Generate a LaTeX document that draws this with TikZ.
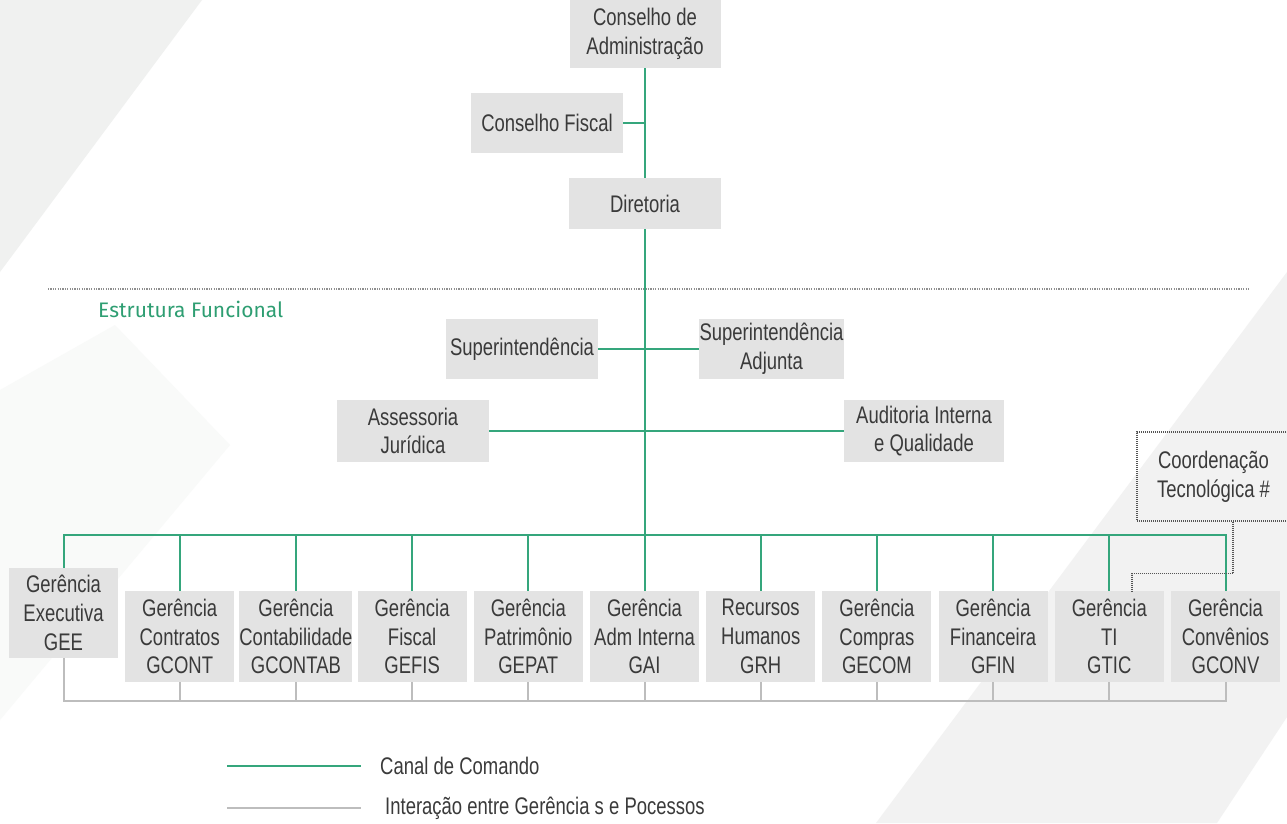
\documentclass[tikz,border=0pt]{standalone}
\usepackage{fontspec}
\setmainfont{Liberation Sans}[FakeStretch=0.77]
\newfontfamily\estfont{Fira Sans}
\definecolor{cmdgreen}{HTML}{35A67C}
\definecolor{estgreen}{HTML}{2E9E72}
\definecolor{boxgray}{HTML}{E3E3E3}
\definecolor{txtgray}{HTML}{3A3A3A}
\definecolor{intgray}{HTML}{BDBDBD}
\definecolor{sepgray}{HTML}{8E8E8E}
\definecolor{dotgray}{HTML}{555555}
\definecolor{bgA}{HTML}{F0F1F0}
\definecolor{bgB}{HTML}{F9FAF9}
\definecolor{bgC}{HTML}{F2F2F2}
\begin{document}
\begin{tikzpicture}[x=1pt,y=-1pt,
  orgbox/.style={fill=boxgray, draw=none, inner sep=0pt, align=center, text=txtgray,
    font=\fontsize{24}{28.7}\selectfont},
  mgr/.style={orgbox, minimum width=109pt, minimum height=91pt},
  cmd/.style={draw=cmdgreen, line width=2pt},
  inter/.style={draw=intgray, line width=2pt},
  sepline/.style={draw=sepgray, line width=1.4pt, dash pattern=on 1.2pt off 1.2pt},
  dotlink/.style={draw=dotgray, line width=1.1pt, dash pattern=on 1pt off 1pt},
  legtext/.style={anchor=west, inner sep=0pt, text=txtgray, font=\fontsize{24}{28.7}\selectfont}]
\useasboundingbox (0,0) rectangle (1287,823);
\fill[white] (0,0) rectangle (1287,823);
% faint background shapes
\fill[bgA] (0,0) -- (202,0) -- (0,272) -- cycle;
\fill[bgB] (0,390) -- (115,325) -- (230,445) -- (0,720) -- cycle;
\fill[bgC] (876,823) -- (1217,823) -- (1287,717) -- (1287,272) -- cycle;

% separator
\draw[sepline] (48,289) -- (1250,289);
\node[anchor=west, inner sep=0pt, text=estgreen, font=\estfont\fontsize{21}{25}\selectfont] (est) at (98,309) {Estrutura Funcional};

% top nodes
\node[orgbox, minimum width=151pt, minimum height=68pt] (ca) at (645,34) {Conselho de\\Administração};
\node[orgbox, minimum width=152pt, minimum height=60pt] (cf) at (547,123) {Conselho Fiscal};
\node[orgbox, minimum width=152pt, minimum height=51pt] (dir) at (645,203.5) {Diretoria};
\node[orgbox, minimum width=152pt, minimum height=60pt] (sup) at (522,349) {Superintendência};
\node[orgbox, minimum width=145pt, minimum height=60pt] (supa) at (771.5,349) {Superintendência\\Adjunta};
\node[orgbox, minimum width=152pt, minimum height=62pt] (aj) at (413,431) {Assessoria\\Jurídica};
\node[orgbox, minimum width=160pt, minimum height=62pt] (aiq) at (924,431) {Auditoria Interna\\e Qualidade};

% managers
\node[mgr, minimum height=90pt] (gee) at (63.5,613) {Gerência\\Executiva\\GEE};
\node[mgr] (gcont) at (179.7,636.5) {Gerência\\Contratos\\GCONT};
\node[mgr] (gcontab) at (295.9,636.5) {Gerência\\Contabilidade\\GCONTAB};
\node[mgr] (gefis) at (412.1,636.5) {Gerência\\Fiscal\\GEFIS};
\node[mgr] (gepat) at (528.3,636.5) {Gerência\\Patrimônio\\GEPAT};
\node[mgr] (gai) at (644.5,636.5) {Gerência\\Adm Interna\\GAI};
\node[mgr] (grh) at (760.7,636.5) {Recursos\\Humanos\\GRH};
\node[mgr] (gecom) at (876.9,636.5) {Gerência\\Compras\\GECOM};
\node[mgr] (gfin) at (993.1,636.5) {Gerência\\Financeira\\GFIN};
\node[mgr] (gtic) at (1109.3,636.5) {Gerência\\TI\\GTIC};
\node[mgr] (gconv) at (1225.5,636.5) {Gerência\\Convênios\\GCONV};

% coordenação
\node[orgbox, fill=none, draw=dotgray, line width=1.1pt, dash pattern=on 1pt off 1pt,
  minimum width=153pt, minimum height=89pt] (coord) at (1213.5,476.5) {Coordenação\\Tecnológica \#};

% command lines
\coordinate (busy) at (0,535);
\coordinate (ibusy) at (0,701);
\draw[cmd] (ca.south -| dir.north) -- (dir.north);
\draw[cmd] (cf.east) -- (cf.east -| dir.north);
\draw[cmd] (dir.south) -- (dir.south |- busy);
\draw[cmd] (sup.east) -- (supa.west);
\draw[cmd] (aj.east) -- (aiq.west);
\draw[cmd] (gee.north) -- (gee.north |- busy) -- (gconv.north |- busy) -- (gconv.north);
\foreach \n in {gcont,gcontab,gefis,gepat,gai,grh,gecom,gfin,gtic}
  \draw[cmd] (\n.north) -- (\n.north |- busy);

% interaction lines
\draw[inter] (gee.south) -- (gee.south |- ibusy) -- (gconv.south |- ibusy) -- (gconv.south);
\foreach \n in {gcont,gcontab,gefis,gepat,gai,grh,gecom,gfin,gtic}
  \draw[inter] (\n.south) -- (\n.south |- ibusy);

% dotted link
\draw[dotlink] ([xshift=19.5pt]coord.south) -- ++(0,52) -| ([xshift=22.7pt]gtic.north);

% legend
\coordinate (lg1a) at (227,766);
\coordinate (lg1b) at (361,766);
\coordinate (lg2a) at (227,808);
\coordinate (lg2b) at (361,808);
\draw[cmd, line width=1.6pt] (lg1a) -- (lg1b);
\draw[inter, line width=1.6pt] (lg2a) -- (lg2b);
\node[legtext] (l1) at (380,766) {Canal de Comando};
\node[legtext] (l2) at (385,808) {Interação entre Gerência s e Pocessos};
\end{tikzpicture}
\end{document}
